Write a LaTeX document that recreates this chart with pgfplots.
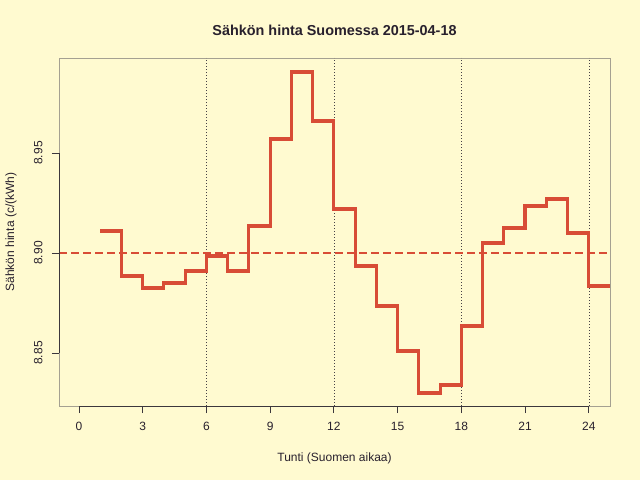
\documentclass[border=0pt]{standalone}
\usepackage{fontspec}
\setmainfont{Liberation Sans}
\usepackage{pgfplots}
\pgfplotsset{compat=1.18}
\definecolor{bg}{RGB}{255,250,208}
\definecolor{lred}{RGB}{216,76,54}
\definecolor{boxgray}{RGB}{165,160,145}
\definecolor{axdark}{RGB}{60,55,60}
\definecolor{txt}{RGB}{40,32,45}
\definecolor{dotgray}{RGB}{70,65,70}
\begin{document}
\begin{tikzpicture}
\fill[bg] (0,0) rectangle (640bp,480bp);
\node[font=\fontsize{14.4bp}{16bp}\selectfont\bfseries, text=txt] at (334.5bp,450bp) {Sähkön hinta Suomessa 2015-04-18};
\node[font=\fontsize{12bp}{14bp}\selectfont, text=txt] at (334.5bp,22bp) {Tunti (Suomen aikaa)};
\node[font=\fontsize{12bp}{14bp}\selectfont, text=txt, rotate=90] at (11bp,248bp) {Sähkön hinta (c/(kWh)};
\begin{axis}[
  at={(59bp,74bp)}, anchor=south west,
  scale only axis, width=551bp, height=348bp,
  xmin=-0.94, xmax=25, ymin=8.8235, ymax=8.9975,
  axis line style={boxgray, line width=0.8bp},
  xtick={0,3,6,9,12,15,18,21,24},
  ytick={8.85,8.90,8.95},
  yticklabels={8.85,8.90,8.95},
  xtick pos=bottom, ytick pos=left,
  tick align=outside, major tick length=7bp,
  tick style={axdark, line width=0.8bp},
  ticklabel style={font=\fontsize{12bp}{14bp}\selectfont, text=txt},
  /pgf/number format/assume math mode=true,
  xticklabel style={yshift=-6bp},
  yticklabel style={rotate=90, anchor=south, yshift=6bp},
  axis background/.style={fill=bg},
  clip mode=individual,
  after end axis/.code={
    \draw[axdark, line width=0.9bp] (axis cs:0,8.8235) -- (axis cs:24,8.8235);
    \draw[axdark, line width=0.9bp] (axis cs:-0.94,8.85) -- (axis cs:-0.94,8.95);
  },
]
\addplot[dotgray, line width=0.5bp, dash pattern=on 1bp off 2bp] coordinates {(6,8.8235) (6,8.9975)};
\addplot[dotgray, line width=0.5bp, dash pattern=on 1bp off 2bp] coordinates {(12,8.8235) (12,8.9975)};
\addplot[dotgray, line width=0.5bp, dash pattern=on 1bp off 2bp] coordinates {(18,8.8235) (18,8.9975)};
\addplot[dotgray, line width=0.5bp, dash pattern=on 1bp off 2bp] coordinates {(24,8.8235) (24,8.9975)};
\addplot[lred, line width=1.2bp, dash pattern=on 7.5bp off 4.5bp] coordinates {(-0.94,8.90) (25,8.90)};
\addplot[lred, line width=3.1bp, const plot mark left, line join=miter] coordinates {
(1,8.911) (2,8.8885) (3,8.8825) (4,8.885) (5,8.891) (6,8.8985) (7,8.891) (8,8.9135)
(9,8.957) (10,8.9905) (11,8.966) (12,8.922) (13,8.8935) (14,8.8735) (15,8.851)
(16,8.830) (17,8.834) (18,8.8635) (19,8.905) (20,8.9125) (21,8.9235) (22,8.927)
(23,8.910) (24,8.8835) (25,8.8835)};
\end{axis}
\end{tikzpicture}
\end{document}
